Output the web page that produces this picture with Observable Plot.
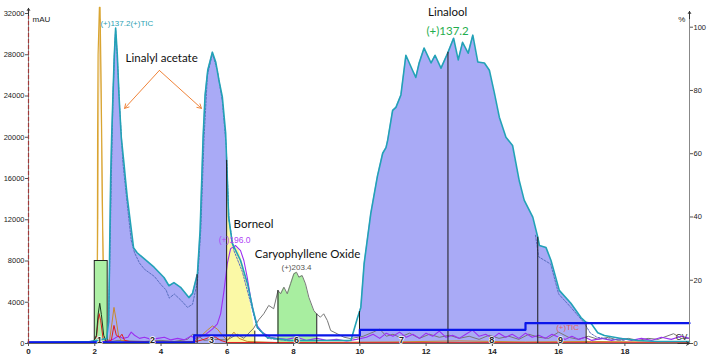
<!DOCTYPE html>
<html><head><meta charset="utf-8">
<script src="https://cdn.jsdelivr.net/npm/d3@7"></script>
<script src="https://cdn.jsdelivr.net/npm/@observablehq/plot@0.6"></script>
<style>html,body{margin:0;padding:0;background:#fff;} svg{display:block}</style>
</head><body><div id="chart"></div>
<script>
// retention time (min), intensity (mAU)
const tic = [[0,100],[1.87,190],[2.36,480],[2.42,2200],[2.48,16000],[2.51,20000],[2.55,24100],[2.59,28000],[2.63,30600],[2.68,28000],[2.73,24100],[2.80,20000],[2.88,17500],[2.93,15800],[2.98,14200],[3.17,9300],[3.28,8800],[3.48,8250],[3.79,7400],[4.09,6400],[4.24,5600],[4.39,5900],[4.59,5450],[4.84,4450],[4.95,4850],[5.10,6800],[5.18,11000],[5.23,16000],[5.27,20000],[5.33,24100],[5.41,26500],[5.55,28250],[5.65,27300],[5.75,25500],[5.85,23900],[5.95,20400],[6.00,16000],[6.04,12300],[6.15,9700],[6.40,8050],[6.61,5800],[6.76,3500],[6.91,1550],[7.21,580],[7.92,290],[9.73,290],[9.93,2500],[10.03,3500],[10.13,7750],[10.33,12600],[10.53,16200],[10.69,18450],[10.79,19000],[10.84,19700],[10.99,22600],[11.09,22900],[11.24,24100],[11.39,27950],[11.59,26500],[11.69,25800],[11.79,27200],[11.94,28650],[12.15,27200],[12.27,27950],[12.45,26700],[12.65,28150],[12.83,29600],[12.97,27500],[13.10,29200],[13.27,28150],[13.41,29900],[13.56,27300],[13.76,27200],[13.91,26500],[14.06,24300],[14.21,21950],[14.41,20000],[14.61,19200],[14.81,15800],[14.96,13900],[15.22,12250],[15.37,10300],[15.42,9500],[15.62,9300],[15.77,8050],[16.02,5150],[16.37,3900],[16.68,2500],[16.83,2050],[16.98,1950],[17.18,1050],[17.38,780],[17.89,490],[18.39,290],[18.99,190],[19.95,190]];
const ticDottedA = [[2.42,2000],[2.5,16000],[2.55,24000],[2.6,28500],[2.63,30400],[2.68,27800],[2.75,23000],[2.85,17500],[2.98,13500],[3.1,10000],[3.2,8800],[3.35,7800],[3.5,7200],[3.8,6500],[4.0,5700],[4.15,5200],[4.25,4400],[4.4,4800],[4.6,4200],[4.8,3500],[4.95,3800],[5.1,6000],[5.2,11000],[5.3,20000],[5.4,26000],[5.55,28100],[5.7,26500],[5.85,23500],[5.97,19000],[6.05,12000],[6.2,9000],[6.45,7000],[6.7,4000],[6.9,1500],[7.2,500],[7.9,250]];
const ticDottedB = [[15.3,10500],[15.4,8400],[15.76,7700],[16.0,4800],[16.37,3500],[16.76,2050],[16.96,1000],[17.16,600],[17.5,450],[18.0,300]];
const gold = [[1.97,100],[2.04,800],[2.07,5000],[2.08,10000],[2.085,20000],[2.10,28000],[2.14,32600],[2.16,32600],[2.18,28000],[2.21,20000],[2.24,11000],[2.27,5000],[2.30,1500],[2.34,300],[2.45,100]];
const tan = [[2.0,100],[2.06,2000],[2.10,12000],[2.12,24000],[2.155,31500],[2.19,24000],[2.22,14000],[2.27,4000],[2.33,500],[2.45,100]];
const darkPeak = [[1.95,100],[2.05,800],[2.1,2800],[2.15,3900],[2.2,2800],[2.27,800],[2.35,150]];
const red = [[1.9,50],[2.05,600],[2.1,2200],[2.13,2900],[2.18,2200],[2.25,500],[2.35,150],[2.5,300],[2.58,1750],[2.65,800],[2.75,600],[2.82,900],[2.9,300],[3.1,150],[4.5,100],[5.0,150],[5.3,400],[5.5,650],[5.65,600],[5.8,300],[6.0,100],[10,80],[19.95,80]];
const orange = [[0,60],[2.3,100],[2.45,400],[2.52,2000],[2.58,3500],[2.65,2200],[2.72,700],[2.8,300],[3.0,200],[4.0,150],[5.0,200],[5.2,700],[5.4,1300],[5.55,1700],[5.7,1400],[5.85,800],[6.0,300],[6.2,1100],[6.35,500],[6.6,200],[7.5,100],[11,150],[13,250],[15,150],[17,200],[19.95,120]];
const purple = [[0,150],[1.0,120],[1.8,200],[2.1,250],[2.3,150],[2.55,400],[2.7,700],[2.85,500],[3.0,600],[3.1,1100],[3.2,800],[3.35,500],[3.5,600],[3.7,400],[3.9,500],[4.1,600],[4.3,350],[4.5,500],[4.7,350],[4.9,700],[5.05,500],[5.2,700],[5.35,900],[5.55,1400],[5.7,1900],[5.8,2900],[5.9,5100],[6.0,7750],[6.1,9200],[6.25,9500],[6.4,9000],[6.5,8050],[6.6,6430],[6.7,4490],[6.8,2900],[6.9,1750],[7.05,1100],[7.3,600],[7.5,500],[7.8,400],[8.1,600],[8.4,300],[8.7,500],[9.0,300],[9.3,400],[9.6,250],[9.9,400],[10.2,600],[10.4,900],[10.6,500],[10.8,1000],[11.0,700],[11.2,1100],[11.4,600],[11.6,900],[11.8,500],[12.0,1000],[12.2,700],[12.4,1200],[12.6,600],[12.8,800],[13.0,500],[13.2,900],[13.4,1300],[13.6,700],[13.8,900],[14.0,500],[14.2,1000],[14.4,600],[14.6,900],[14.8,500],[15.0,1000],[15.2,600],[15.4,800],[15.6,500],[15.8,900],[16.0,600],[16.2,400],[16.4,700],[16.6,400],[16.8,600],[17.0,300],[17.3,500],[17.6,300],[17.9,500],[18.2,300],[18.5,500],[18.8,300],[19.1,600],[19.4,400],[19.7,700],[19.95,500]];
const gray = [[0,80],[1.5,100],[2.0,150],[2.3,400],[2.5,200],[2.7,300],[3.0,250],[3.5,200],[4.0,300],[4.4,200],[4.8,400],[4.95,900],[5.1,800],[5.3,300],[5.6,400],[6.0,350],[6.3,900],[6.5,500],[6.8,1500],[6.95,2300],[7.10,2880],[7.25,3690],[7.40,3370],[7.53,5140],[7.61,4820],[7.71,5460],[7.81,4820],[7.91,5790],[8.01,6760],[8.09,6910],[8.16,6430],[8.26,6590],[8.36,5790],[8.46,4490],[8.61,3200],[8.69,2880],[8.81,2550],[8.91,2880],[9.02,2230],[9.12,1260],[9.32,940],[9.52,610],[9.72,480],[10.1,700],[10.4,1100],[10.6,1400],[10.8,700],[11.0,900],[11.2,600],[11.5,1000],[11.8,500],[12.1,900],[12.4,600],[12.7,800],[13.0,500],[13.3,700],[13.6,400],[13.9,800],[14.2,500],[14.5,700],[14.8,400],[15.1,900],[15.4,600],[15.7,500],[16.0,1100],[16.3,600],[16.6,400],[16.9,700],[17.2,400],[17.5,600],[17.8,300],[18.1,500],[18.4,300],[18.7,500],[19.0,400],[19.47,950],[19.7,500],[19.95,500]];
const borneolTop = [[5.98,16500],[6.04,12300],[6.12,9900],[6.2,9400],[6.35,9100],[6.5,7400],[6.6,5800],[6.7,3800],[6.78,2200],[6.83,1200]];
const stepLine = [[0,100],[5.0,780],[10.0,1330],[15.0,1970],[19.95,1970]];
const ticRanges = [[2.42,5.98],[10.0,16.83]];
const ticBounds = [5.09,5.98,9.99,12.66,15.37,16.83];
const caryRange = [7.53,8.70];
const boxPeak = [[2.0,2.39,8000]];
const peakNumT = [2.14,3.74,5.52,8.09,11.26,13.98,16.06];
const peakNums = ["1","2","3","6","7","8","9"];
const xTicks = [0,2,4,6,8,10,12,14,16,18];
const yTicks = [0,4000,8000,12000,16000,20000,24000,28000,32000];
const pctTicks = [0,20,40,60,80,100];
const pctFull = 30672; // mAU level that equals 100 %

function interp(s, t){for(let i=1;i<s.length;i++){if(s[i][0]>=t){const [t0,v0]=s[i-1],[t1,v1]=s[i];return v0+(v1-v0)*(t-t0)/(t1-t0);}}return s[s.length-1][1];}
function segment(s,a,b){return [[a,interp(s,a)],...s.filter(d=>d[0]>a&&d[0]<b),[b,interp(s,b)]];}
const X = d=>d[0], Y = d=>d[1];
const FONT = "Lato";

const chart = Plot.plot({
  width:711, height:359, marginLeft:28, marginRight:22, marginTop:13, marginBottom:16,
  x:{domain:[0,19.95]}, y:{domain:[0,32000]},
  style:{fontFamily:"Liberation Sans", fontSize:"7.5px", background:"white", overflow:"visible", color:"#222"},
  marks:[
    ...ticRanges.map(([a,b])=>Plot.areaY(segment(tic,a,b),{x:X,y:Y,fill:"#a9aaf6"})),
    Plot.areaY(borneolTop,{x:X,y:Y,fill:"#fbf9a6"}),
    Plot.areaY(segment(gray,caryRange[0],caryRange[1]),{x:X,y:Y,fill:"#a8eea0"}),
    Plot.line(gray,{x:X,y:Y,stroke:"#777",strokeWidth:1}),
    Plot.line(orange,{x:X,y:Y,stroke:"#c8892e",strokeWidth:1}),
    Plot.line(tan,{x:X,y:Y,stroke:"#ecc98c",strokeWidth:1}),
    Plot.line(gold,{x:X,y:Y,stroke:"#d9a531",strokeWidth:1.2}),
    Plot.rect(boxPeak,{x1:d=>d[0],x2:d=>d[1],y1:0,y2:d=>d[2],fill:"#adf0a5",stroke:"#222",strokeWidth:1}),
    Plot.line(purple,{x:X,y:Y,stroke:"#9b30f0",strokeWidth:1.1}),
    Plot.line(red,{x:X,y:Y,stroke:"#e02020",strokeWidth:1}),
    Plot.line(darkPeak,{x:X,y:Y,stroke:"#1c3a20",strokeWidth:1}),
    Plot.line(ticDottedA,{x:X,y:Y,stroke:"#5a6fc0",strokeWidth:1,strokeDasharray:"2,1.5"}),
    Plot.line(ticDottedB,{x:X,y:Y,stroke:"#5a6fc0",strokeWidth:1,strokeDasharray:"2,1.5"}),
    Plot.line(tic,{x:X,y:Y,stroke:"#22a2b6",strokeWidth:1.6}),
    Plot.ruleX(ticBounds,{x:d=>d,y1:0,y2:d=>interp(tic,d),stroke:"#1a1a1a",strokeWidth:1}),
    Plot.ruleX(caryRange,{x:d=>d,y1:0,y2:d=>interp(gray,d),stroke:"#1a1a1a",strokeWidth:1}),
    Plot.ruleX([borneolTop[borneolTop.length-1]],{x:X,y1:0,y2:Y,stroke:"#1a1a1a",strokeWidth:1}),
    Plot.line(stepLine,{x:X,y:Y,curve:"step-after",stroke:"#0a16ea",strokeWidth:2.2}),
    // axes
    Plot.ruleY([0],{stroke:"#666",strokeWidth:1}),
    Plot.ruleX([0],{stroke:"#888",strokeWidth:1,y1:0,y2:32300}),
    Plot.ruleX([0],{stroke:"#a03a3a",strokeWidth:1.2,strokeDasharray:"4,2",y1:0,y2:32300}),
    Plot.ruleX([19.95],{stroke:"#888",strokeWidth:1,y1:0,y2:32000}),
    Plot.arrow([[0,31800,0,32500],[19.95,31500,19.95,32200],[19.6,0,19.95,0]],{x1:d=>d[0],y1:d=>d[1],x2:d=>d[2],y2:d=>d[3],stroke:"#333",strokeWidth:1,headLength:5}),
    Plot.axisX({ticks:xTicks,tickSize:3,tickPadding:2,fontWeight:"bold",fontSize:8,fill:"#222",stroke:"#555"}),
    Plot.axisY({ticks:yTicks,tickSize:3,tickPadding:1,tickFormat:d3.format("d"),fill:"#222",stroke:"#555"}),
    Plot.axisY({anchor:"right",ticks:pctTicks.map(p=>p*pctFull/100),tickSize:3,tickPadding:1,tickFormat:v=>String(Math.round(v/pctFull*100)),fill:"#222",stroke:"#555"}),
    // annotations
    Plot.text(["mAU"],{x:0.12,y:31430,text:d=>d,textAnchor:"start",fontSize:8,fill:"#222"}),
    Plot.text(["%"],{x:19.72,y:31470,text:d=>d,fontSize:8,fill:"#222"}),
    Plot.text(["(+)137.2(+)TIC"],{x:2.17,y:30990,text:d=>d,textAnchor:"start",fontSize:8,fill:"#2a9fb3"}),
    Plot.text(["Linalyl acetate"],{x:4.02,y:27650,text:d=>d,fontSize:11.5,fontFamily:FONT,fill:"#111"}),
    Plot.arrow([[3.95,26480,2.9,22800],[3.95,26480,5.22,22800]],{x1:d=>d[0],y1:d=>d[1],x2:d=>d[2],y2:d=>d[3],stroke:"#f0843a",strokeWidth:1,headLength:7}),
    Plot.text(["Borneol"],{x:6.79,y:11540,text:d=>d,fontSize:11.5,fontFamily:FONT,fill:"#111"}),
    Plot.text(["(+)196.0"],{x:6.22,y:9990,text:d=>d,fontSize:8.5,fill:"#b044f5"}),
    Plot.text(["Caryophyllene Oxide"],{x:8.42,y:8630,text:d=>d,fontSize:11.5,fontFamily:FONT,fill:"#111"}),
    Plot.text(["(+)203.4"],{x:8.09,y:7420,text:d=>d,fontSize:8,fill:"#555"}),
    Plot.text(["Linalool"],{x:12.65,y:32100,text:d=>d,fontSize:11.5,fontFamily:FONT,fill:"#111"}),
    Plot.text(["(+)137.2"],{x:12.65,y:30300,text:d=>d,fontSize:11.5,fontFamily:FONT,fill:"#1fae4e"}),
    Plot.text(["(+)TIC"],{x:16.27,y:1550,text:d=>d,fontSize:8,fill:"#e06060"}),
    Plot.text(["CV"],{x:19.71,y:580,text:d=>d,fontSize:8.5,fill:"#333"}),
    Plot.text(peakNumT,{x:d=>d,y:340,text:(d,i)=>peakNums[i],fontSize:9,fontWeight:"bold",fill:"#222",stroke:"#fff",strokeWidth:1.5,paintOrder:"stroke"})
  ]
});
document.getElementById("chart").append(chart);
</script></body></html>
